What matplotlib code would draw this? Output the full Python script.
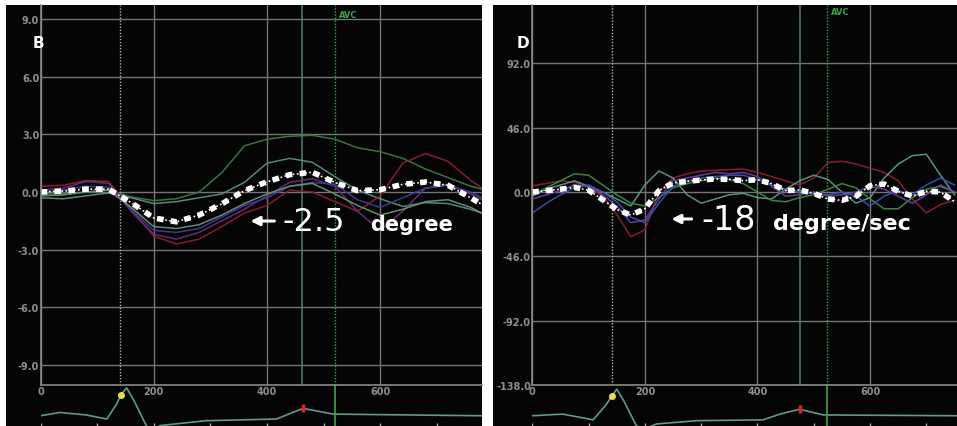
import numpy as np
import matplotlib
matplotlib.use('Agg')
from matplotlib import pyplot as plt
from matplotlib import transforms

W, H = 957, 427

# left panel (B) - angle, degree
t_left = [0, 40, 80, 120, 160, 200, 240, 280, 320, 360, 400, 440, 480, 520, 560, 600, 640, 680, 720, 760, 780]
mean_left = [0.0, 0.05, 0.15, 0.15, -0.55, -1.35, -1.55, -1.2, -0.62, 0.07, 0.53, 0.9, 1.03, 0.5, 0.07, 0.12, 0.4, 0.52, 0.35, -0.3, -0.65]
green_left = [-0.1, -0.1, 0.0, 0.1, -0.25, -0.45, -0.35, 0.0, 1.0, 2.4, 2.75, 2.9, 2.95, 2.75, 2.3, 2.1, 1.75, 1.2, 0.75, 0.3, 0.15]
teal_left = [-0.3, -0.35, -0.2, -0.05, -0.3, -0.6, -0.5, -0.3, -0.1, 0.5, 1.5, 1.75, 1.55, 0.8, 0.1, -0.35, -0.75, -0.55, -0.6, -0.9, -1.1]
red_left = [0.3, 0.35, 0.6, 0.55, -0.9, -2.3, -2.7, -2.45, -1.8, -1.1, -0.7, 0.1, 0.0, -0.5, -1.0, -0.2, 1.5, 2.0, 1.6, 0.6, 0.2]
purple_left = [0.1, 0.2, 0.55, 0.45, -1.0, -2.2, -2.45, -2.1, -1.5, -0.9, -0.2, 0.5, 0.7, 0.3, -1.0, -2.0, -1.0, 0.2, 0.4, -0.1, -0.4]
blue_left = [0.0, 0.1, 0.3, 0.25, -0.9, -2.0, -2.1, -1.9, -1.3, -0.7, -0.3, 0.3, 0.5, 0.4, -0.4, -0.8, -0.3, 0.2, 0.35, 0.0, -0.3]
gray_left = [-0.2, -0.15, 0.0, 0.1, -0.8, -1.8, -1.9, -1.7, -1.2, -0.6, -0.1, 0.3, 0.45, -0.1, -0.7, -1.2, -0.9, -0.5, -0.4, -0.8, -1.1]
yticks_left = [9.0, 6.0, 3.0, 0.0, -3.0, -6.0, -9.0]
ecg_t_left = [0, 34, 80, 117, 135, 142, 152, 165, 187, 200, 211, 293, 417, 440, 464, 490, 517, 780]
ecg_v_left = [0.25, 0.33, 0.27, 0.17, 0.55, 0.76, 0.93, 0.62, 0.0, -0.08, 0.01, 0.13, 0.17, 0.3, 0.43, 0.36, 0.29, 0.25]

# right panel (D) - velocity, degree/sec
t_right = [0, 25, 50, 75, 100, 125, 150, 175, 200, 225, 250, 275, 300, 325, 350, 375, 400, 425, 450, 475, 500, 525, 550, 575, 600, 625, 650, 675, 700, 725, 750]
mean_right = [0, 1, 2, 3.3, 1.2, -5.5, -12.5, -16.5, -12, 1, 6.5, 7.6, 8.6, 9.3, 9, 8.1, 8.8, 6, 1, 1.5, -1, -5, -6, -3, 4.5, 5.7, 0.5, -3, 0.5, 0, -7]
red_right = [4.5, 6, 8, 7, 3.5, -3, -16, -32, -27, 0, 10, 13, 15, 15.5, 16, 16.4, 14, 11, 8, 5, 10, 21, 22, 20, 17, 14, 8, -5, -15, -9, -6]
teal_right = [-3, 2, 5, 8, 4, 0, -5, -10, 5, 15, 10, -2, -8, -5, -2, -1, -4, -5, 2, 8, 12, 9, 0, -8, -4, 10, 20, 26, 27, 12, -2]
green_right = [-2, 3, 8, 13, 12, 5, -2, -8, -10, -4, 3, 6, 8, 10, 9, 6, 0, -6, -7, -4, -2, 2, 6, 3, -5, -12, -12, -4, 2, 4, 0]
purple_right = [-5, -2, 1, 5, 4, -2, -10, -22, -20, -5, 8, 10, 12, 14, 13, 14, 11, 4, -3, -2, 0, -3, -2, 0, 4, 2, -3, -8, -2, 5, 0]
blue_right = [-15, -8, -2, 3, 5, 0, -7, -18, -22, -8, 4, 8, 10, 11, 12, 12, 9, 5, 2, 0, -1, -2, 0, -3, -10, -3, 1, -2, 5, 10, 5]
yticks_right = [92.0, 46.0, 0.0, -46.0, -92.0, -138.0]
ecg_t_right = [0, 54, 108, 130, 141, 150, 163, 185, 200, 221, 292, 410, 440, 475, 495, 517, 754]
ecg_v_right = [0.25, 0.29, 0.15, 0.5, 0.72, 0.9, 0.6, 0.0, -0.06, 0.05, 0.13, 0.15, 0.29, 0.41, 0.34, 0.27, 0.25]

xticks = [0, 200, 400, 600]
ecg_ticks = [0, 100, 200, 300, 400, 500, 600, 700]

GRID = '#747474'
LABEL = '#8e8e8e'
AVC_GREEN = '#3fa34d'


def px_rect(x0, y0, x1, y1):
    return [x0 / W, 1 - y1 / H, (x1 - x0) / W, (y1 - y0) / H]


def panel(fig, x0, x1, ax_x0, xmax, ylim, yticks, curves, colors, mean_t, mean_v,
          ecg_t, ecg_v, ed, mid, avc, avc_y):
    bg = fig.add_axes(px_rect(x0, 6, x1, H))
    bg.set_facecolor('#050505')
    bg.set_xticks([])
    bg.set_yticks([])
    for s in bg.spines.values():
        s.set_visible(False)
    bg.set_zorder(0)

    ax = fig.add_axes(px_rect(ax_x0, 6, x1, 386))
    ax.set_zorder(2)
    ax.set_facecolor('none')
    ax.set_xlim(0, xmax)
    ax.set_ylim(*ylim)
    ax.set_xticks(xticks)
    ax.set_xticklabels([str(x) for x in xticks])
    ax.set_yticks(yticks)
    ax.set_yticklabels(['%.1f' % y for y in yticks])
    ax.tick_params(length=0, pad=1, labelsize=7, labelcolor=LABEL)
    for lab in ax.get_xticklabels() + ax.get_yticklabels():
        lab.set_fontweight('bold')
    ax.grid(True, color=GRID, lw=1)
    ax.set_axisbelow(True)
    for side in ['top', 'right']:
        ax.spines[side].set_visible(False)
    for side in ['left', 'bottom']:
        ax.spines[side].set_color('#8a8a8a')
        ax.spines[side].set_linewidth(1.2)

    ax.axvline(ed, color='#b0b0b0', lw=1, ls=(0, (1, 1.2)))
    ax.axvline(mid, color='#4f7f78', lw=1.1)
    ax.axvline(avc, color=AVC_GREEN, lw=1, ls=(0, (1, 1.2)))
    trans = transforms.blended_transform_factory(ax.transData, ax.transAxes)
    ax.text(avc + 8, avc_y, 'AVC', transform=trans, color=AVC_GREEN, fontsize=6,
            fontweight='bold', va='center', ha='left')

    t_series, values = curves
    for v, c in zip(values, colors):
        ax.plot(t_series, v, color=c, lw=1.1, alpha=0.95)
    ax.plot(mean_t, mean_v, color='white', lw=1.2, ls=(0, (1, 1.5)))
    ax.plot(mean_t, mean_v, color='white', lw=4, ls=(0, (1.2, 1.3)),
            dash_capstyle='butt')

    ecg = fig.add_axes(px_rect(ax_x0, 386, x1, H))
    ecg.set_zorder(1)
    ecg.set_facecolor('none')
    ecg.set_xlim(0, xmax)
    ecg.set_ylim(0, 1)
    ecg.axis('off')
    ecg.plot(ecg_t, ecg_v, color='#5f9a8a', lw=1.2)
    ecg.vlines(ecg_ticks, 0, 0.07, color='#aaaaaa', lw=1)
    ecg.axvline(avc, color=AVC_GREEN, lw=1.2)
    return ax, ecg


fig = plt.figure(figsize=(W / 100, H / 100), dpi=100)
fig.patch.set_facecolor('white')

left_colors = ['#3d7a45', '#5b8f80', '#8e1f2f', '#6b2f7f', '#3b3f9a', '#6f8f78']
axl, ecgl = panel(fig, 6, 482, 40.6, 780, (-10.04, 9.73), yticks_left,
                  (t_left, [green_left, teal_left, red_left, purple_left, blue_left, gray_left]),
                  left_colors, t_left, mean_left, ecg_t_left, ecg_v_left,
                  141, 462, 520, 0.976)
ecgl.plot([142], [0.76], 'o', color='#e8e040', ms=4)
ecgl.vlines([464], 0.33, 0.53, color='#e02020', lw=2.5)

right_colors = ['#8e1f2f', '#5b9a8a', '#3d8a45', '#6b3f9f', '#3b50b0']
axr, ecgr = panel(fig, 493, 957, 532.3, 754.4, (-138, 133.7), yticks_right,
                  (t_right, [red_right, teal_right, green_right, purple_right, blue_right]),
                  right_colors, t_right, mean_right, ecg_t_right, ecg_v_right,
                  141, 476, 523, 0.982)
ecgr.plot([141], [0.72], 'o', color='#e8e040', ms=4)
ecgr.vlines([475], 0.31, 0.51, color='#e02020', lw=2.5)

fig.text(33 / W, 1 - 43 / H, 'B', color='white', fontsize=11, fontweight='bold',
         va='center', ha='left', zorder=5)
fig.text(517 / W, 1 - 43 / H, 'D', color='white', fontsize=11, fontweight='bold',
         va='center', ha='left', zorder=5)

# annotations
axl.annotate('', xy=(366, -1.51), xytext=(418, -1.51),
             arrowprops=dict(arrowstyle='-|>', color='white', lw=2.2, mutation_scale=13))
axl.text(428, -2.0, '-2.5', color='white', fontsize=23, fontweight='normal',
         va='baseline', ha='left')
axl.text(583, -2.0, 'degree', color='white', fontsize=15, fontweight='bold',
         va='baseline', ha='left')

axr.annotate('', xy=(242, -19.3), xytext=(288, -19.3),
             arrowprops=dict(arrowstyle='-|>', color='white', lw=2.2, mutation_scale=13))
axr.text(300, -26.5, '-18', color='white', fontsize=24, fontweight='normal',
         va='baseline', ha='left')
axr.text(428, -26.5, 'degree/sec', color='white', fontsize=16, fontweight='bold',
         va='baseline', ha='left')

plt.savefig('out.png', dpi=100, facecolor=fig.get_facecolor())
